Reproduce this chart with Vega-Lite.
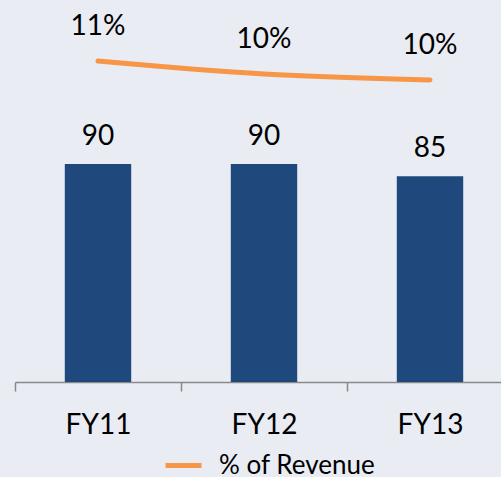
{
  "$schema": "https://vega.github.io/schema/vega-lite/v6.json",
  "width": 486,
  "height": 372,
  "autosize": "none",
  "padding": {"left": 15, "top": 10, "right": 0, "bottom": 95},
  "background": "#e9ecf3",
  "config": {"view": {"stroke": null}, "font": "Lato", "text": {"font": "Lato"}},
  "data": {
    "values": [
      {"year": "FY11", "value": 90, "pct": 10.6, "pctLabel": "11%"},
      {"year": "FY12", "value": 90, "pct": 10.08, "pctLabel": "10%"},
      {"year": "FY13", "value": 85, "pct": 9.84, "pctLabel": "10%"}
    ]
  },
  "encoding": {
    "x": {
      "field": "year",
      "type": "nominal",
      "sort": null,
      "scale": {"paddingInner": 0, "paddingOuter": 0, "range": [0, 498]},
      "axis": {
        "title": null,
        "labelAngle": 0,
        "labelFont": "Lato",
        "labelFontSize": 28,
        "labelColor": "#000000",
        "labelBaseline": "alphabetic",
        "labelPadding": 42,
        "tickSize": 9,
        "tickBand": "extent",
        "domainColor": "#898989",
        "tickColor": "#898989",
        "domainWidth": 1.5,
        "tickWidth": 1.5
      }
    }
  },
  "layer": [
    {
      "mark": {"type": "bar", "width": {"band": 0.4}, "color": "#1f497d"},
      "encoding": {
        "y": {"field": "value", "type": "quantitative", "scale": {"domain": [0, 153.6]}, "axis": null}
      }
    },
    {
      "mark": {"type": "text", "dy": -19, "baseline": "alphabetic", "fontSize": 28, "color": "#000000"},
      "encoding": {
        "y": {"field": "value", "type": "quantitative", "scale": {"domain": [0, 153.6]}, "axis": null},
        "text": {"field": "value", "type": "quantitative"}
      }
    },
    {
      "mark": {"type": "line", "strokeWidth": 5, "interpolate": "monotone", "strokeCap": "round"},
      "encoding": {
        "y": {"field": "pct", "type": "quantitative", "scale": {"domain": [-2.24, 12.64]}, "axis": null},
        "color": {
          "datum": "% of Revenue",
          "scale": {"range": ["#f79646"]},
          "legend": {
            "title": null,
            "orient": "none",
            "legendX": 148,
            "legendY": 435,
            "padding": 0,
            "labelFont": "Lato",
            "labelFontSize": 26,
            "labelColor": "#000000",
            "symbolType": "stroke",
            "symbolSize": 1296,
            "symbolStrokeWidth": 5,
            "labelOffset": 15
          }
        }
      }
    },
    {
      "mark": {"type": "text", "dy": -26, "baseline": "alphabetic", "fontSize": 28, "color": "#000000"},
      "encoding": {
        "y": {"field": "pct", "type": "quantitative", "scale": {"domain": [-2.24, 12.64]}, "axis": null},
        "text": {"field": "pctLabel", "type": "nominal"}
      }
    }
  ],
  "resolve": {"scale": {"y": "independent"}}
}
